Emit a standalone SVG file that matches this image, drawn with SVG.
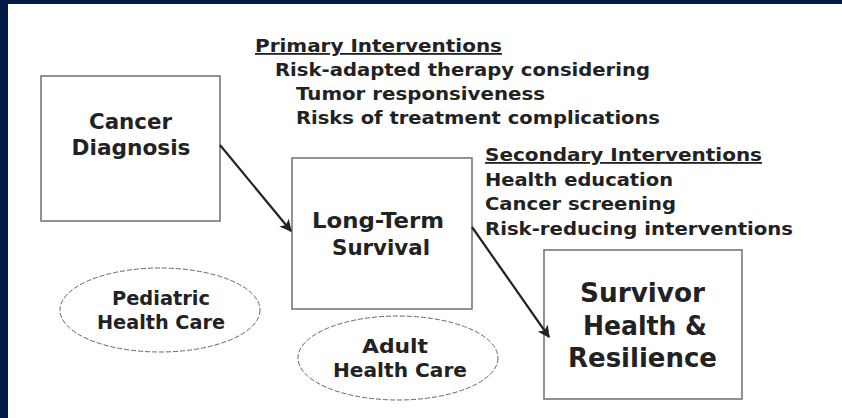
<svg xmlns="http://www.w3.org/2000/svg" width="842" height="418" viewBox="0 0 842 418">
  <style>
    .box { fill: #ffffff; stroke: #777777; stroke-width: 1.6; }
    .oval { fill: #ffffff; stroke: #555555; stroke-width: 0.9; stroke-dasharray: 5 2; }
    .lbl { font-family: "DejaVu Sans", Verdana, sans-serif; font-weight: bold; fill: #222222; }
    .note { font-size: 18px; }
    .node { font-size: 21px; text-anchor: middle; }
    .big { font-size: 26px; text-anchor: middle; }
    .head { text-decoration: underline; }
    .link { stroke: #222222; stroke-width: 2.2; fill: none; marker-end: url(#tip); }
  </style>
  <defs>
    <marker id="tip" viewBox="0 0 10 10" refX="9" refY="5" markerWidth="5.5" markerHeight="5.5" orient="auto" markerUnits="strokeWidth">
      <path d="M0,0 L10,5 L0,10 L2.5,5 Z" fill="#222222"/>
    </marker>
  </defs>

  <!-- page background with navy frame on the top and left -->
  <rect x="0" y="0" width="842" height="418" fill="#ffffff"/>
  <rect x="0" y="0" width="842" height="4" fill="#021a46"/>
  <rect x="0" y="0" width="8" height="418" fill="#021a46"/>

  <!-- intervention notes -->
  <g id="primary-interventions" class="lbl note">
    <text x="255" y="52" class="head" textLength="247" lengthAdjust="spacingAndGlyphs">Primary Interventions</text>
    <text x="275" y="76" textLength="375" lengthAdjust="spacingAndGlyphs">Risk-adapted therapy considering</text>
    <text x="296" y="100" textLength="249" lengthAdjust="spacingAndGlyphs">Tumor responsiveness</text>
    <text x="296" y="124" textLength="364" lengthAdjust="spacingAndGlyphs">Risks of treatment complications</text>
  </g>
  <g id="secondary-interventions" class="lbl note">
    <text x="485" y="161" class="head" textLength="277" lengthAdjust="spacingAndGlyphs">Secondary Interventions</text>
    <text x="485" y="186" textLength="188" lengthAdjust="spacingAndGlyphs">Health education</text>
    <text x="485" y="210" textLength="191" lengthAdjust="spacingAndGlyphs">Cancer screening</text>
    <text x="485" y="235" textLength="308" lengthAdjust="spacingAndGlyphs">Risk-reducing interventions</text>
  </g>

  <!-- nodes -->
  <g id="cancer-diagnosis">
    <rect class="box" x="41" y="76" width="179" height="145"/>
    <text class="lbl node" x="130.5" y="129" textLength="83" lengthAdjust="spacingAndGlyphs">Cancer</text>
    <text class="lbl node" x="131" y="155" textLength="119" lengthAdjust="spacingAndGlyphs">Diagnosis</text>
  </g>
  <g id="long-term-survival">
    <rect class="box" x="292" y="158" width="180" height="151"/>
    <text class="lbl node" x="378" y="228" textLength="132" lengthAdjust="spacingAndGlyphs">Long-Term</text>
    <text class="lbl node" x="381" y="255" textLength="98" lengthAdjust="spacingAndGlyphs">Survival</text>
  </g>
  <g id="survivor-health">
    <rect class="box" x="544" y="250" width="198" height="149"/>
    <text class="lbl big" x="642.5" y="302" textLength="125" lengthAdjust="spacingAndGlyphs">Survivor</text>
    <text class="lbl big" x="645" y="335" textLength="124" lengthAdjust="spacingAndGlyphs">Health &amp;</text>
    <text class="lbl big" x="642.5" y="367" textLength="149" lengthAdjust="spacingAndGlyphs">Resilience</text>
  </g>
  <g id="pediatric-care">
    <ellipse class="oval" cx="160" cy="310" rx="100" ry="42"/>
    <text class="lbl node" x="161" y="305" style="font-size:19px" textLength="98" lengthAdjust="spacingAndGlyphs">Pediatric</text>
    <text class="lbl node" x="161" y="329" style="font-size:19px" textLength="128" lengthAdjust="spacingAndGlyphs">Health Care</text>
  </g>
  <g id="adult-care">
    <ellipse class="oval" cx="398" cy="358" rx="100" ry="42"/>
    <text class="lbl node" x="395" y="353" style="font-size:20px" textLength="66" lengthAdjust="spacingAndGlyphs">Adult</text>
    <text class="lbl node" x="400" y="377" style="font-size:20px" textLength="134" lengthAdjust="spacingAndGlyphs">Health Care</text>
  </g>

  <!-- connectors -->
  <g id="connectors">
    <line class="link" x1="220" y1="145" x2="291" y2="231"/>
    <line class="link" x1="472" y1="227" x2="549" y2="337"/>
  </g>
</svg>
